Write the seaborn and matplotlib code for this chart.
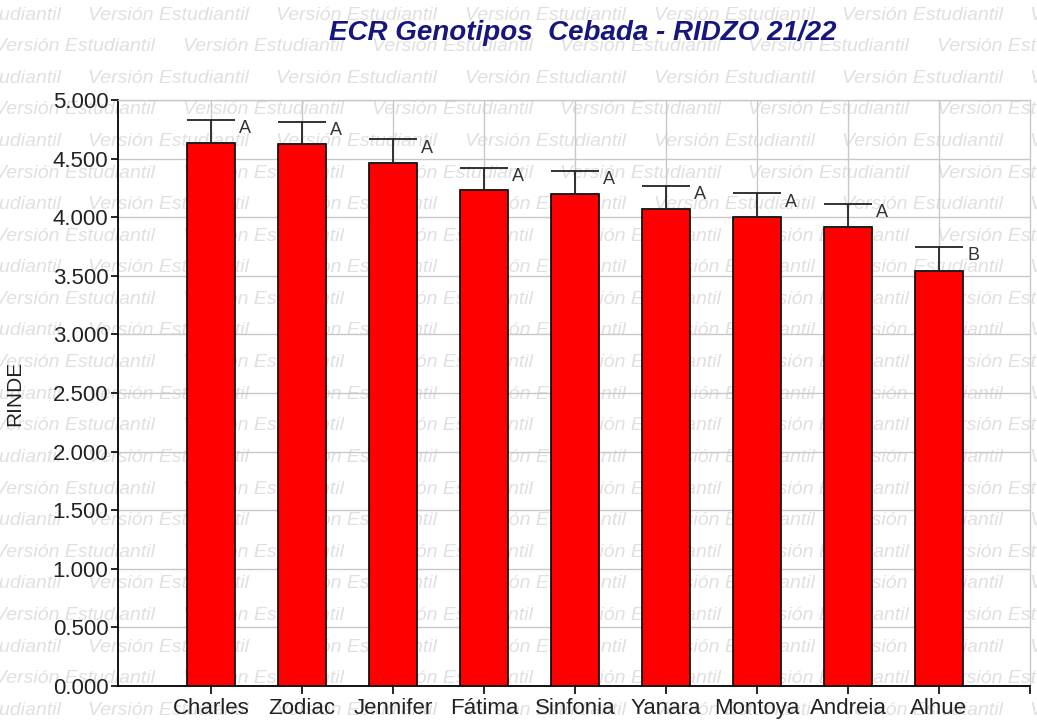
import numpy as np
import pandas as pd
import matplotlib
matplotlib.use("Agg")
import matplotlib.pyplot as plt
import seaborn as sns

genotipos = ["Charles", "Zodiac", "Jennifer", "Fátima", "Sinfonia",
             "Yanara", "Montoya", "Andreia", "Alhue"]
rinde = [4635, 4622, 4460, 4232, 4198, 4067, 4004, 3913, 3541]
error = [194, 193, 204, 190, 199, 199, 200, 199, 207]
letras = ["A", "A", "A", "A", "A", "A", "A", "A", "B"]

df = pd.DataFrame({"Genotipo": genotipos, "RINDE": rinde})

sns.set_style("white")
plt.rcParams["font.family"] = ["Liberation Sans", "DejaVu Sans"]

fig = plt.figure(figsize=(10.37, 7.23), dpi=100)
ax = fig.add_axes([0.1138, 0.0512, 0.8794, 0.8105])
ax.patch.set_alpha(0)

# marca de agua
wm_color = "#e0e0e0"
for r in range(23):
    y = 1 - (15 + r * 31.6) / 723
    off = 88 if r % 2 == 0 else -5.5
    for k in range(-1, 6):
        x = (off + k * 188.5) / 1037
        fig.text(x, y, "Versión Estudiantil", color=wm_color, fontsize=14,
                 style="italic", va="center", ha="left", zorder=-5)

sns.barplot(data=df, x="Genotipo", y="RINDE", color="#ff0000",
            edgecolor="black", linewidth=1.2, width=0.53, saturation=1,
            ax=ax, zorder=3)
ax.errorbar(np.arange(len(genotipos)), rinde,
            yerr=[np.zeros(len(error)), error], fmt="none",
            ecolor="#222222", elinewidth=1.3, capsize=17, capthick=1.3, zorder=4)

for i, (v, e, l) in enumerate(zip(rinde, error, letras)):
    ax.text(i + 0.31, v + e - 75, l, fontsize=13, ha="left", va="center",
            color="#333333", zorder=5)

ax.set_xlim(-1.02, 9)
ax.set_ylim(0, 5000)
ax.set_yticks(np.arange(0, 5001, 500))
ax.set_yticklabels([f"{v/1000:.3f}" for v in np.arange(0, 5001, 500)],
                   fontsize=16, color="#222222")
ax.set_xticks(range(len(genotipos)))
ax.set_xticklabels(genotipos, fontsize=16, color="#222222")
ax.set_xticks([9], minor=True)
ax.grid(True, color="#c8c8c8", linewidth=1.0, zorder=0)
ax.set_axisbelow(True)
ax.tick_params(axis="both", which="both", direction="out", length=5, width=1.2,
               color="black", left=True, bottom=True, pad=2)
ax.tick_params(axis="x", which="both", length=6, pad=3)
for s in ["left", "bottom"]:
    ax.spines[s].set_color("black")
    ax.spines[s].set_linewidth(1.3)
for s in ["top", "right"]:
    ax.spines[s].set_color("#c8c8c8")
    ax.spines[s].set_linewidth(1.0)

ax.set_xlabel("")
ax.set_ylabel("RINDE", fontsize=15, color="#222222")
ax.yaxis.set_label_coords(-0.103, 0.50)
fig.text(0.562, 1 - 33 / 723, "ECR Genotipos  Cebada - RIDZO 21/22", fontsize=20,
         fontweight="bold", style="italic", color="#16167e", ha="center", va="center")

fig.savefig("out.png", dpi=100)
